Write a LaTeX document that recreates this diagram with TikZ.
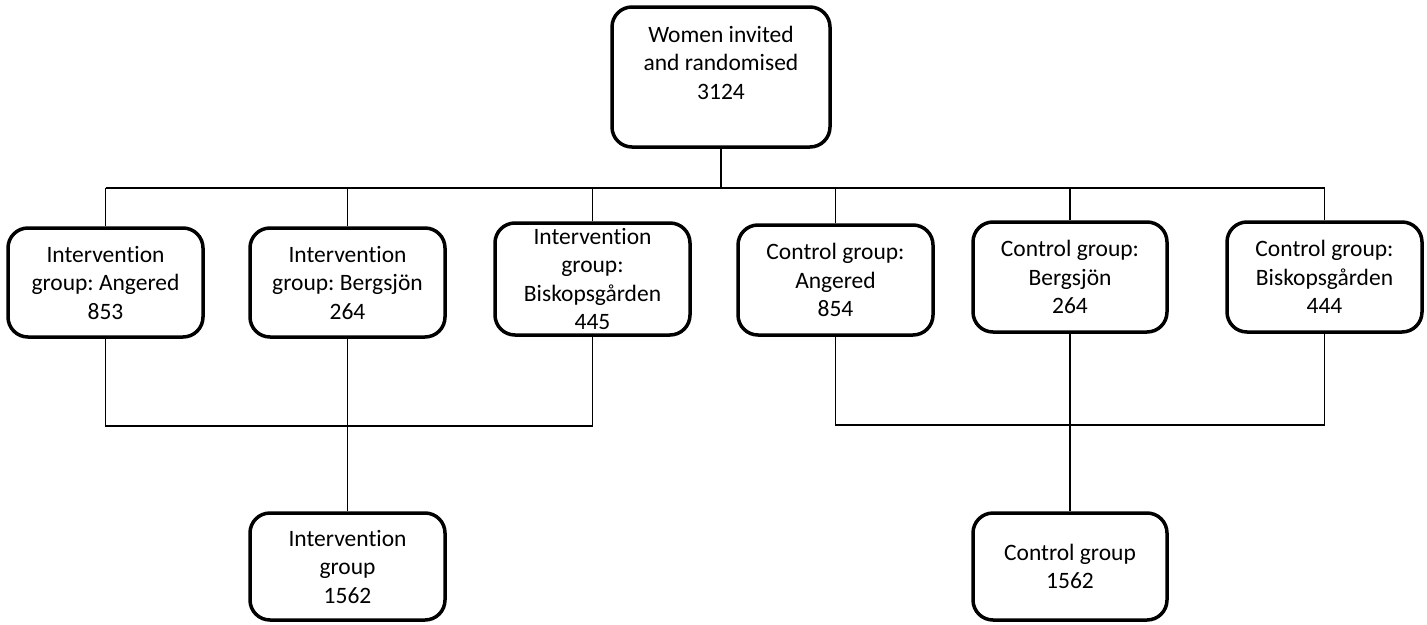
\documentclass[tikz,border=0pt]{standalone}
\usepackage{fontspec}
\setmainfont[Ligatures=NoCommon]{Carlito}
\usepackage{tikz}
\frenchspacing

\tikzset{
  box/.style={draw, line width=3.5pt, rounded corners=20pt, align=center,
    minimum width=195pt, minimum height=109pt, inner sep=0pt,
    font=\fontsize{23.5}{28.5}\selectfont},
  link/.style={line width=1.3pt}
}

\begin{document}
\begin{tikzpicture}[x=1pt,y=-1pt]
  \useasboundingbox (0,0) rectangle (1427,624);
  % boxes
  \node[box, minimum width=218pt, minimum height=140pt] (top) at (721,77)
    {Women invited\\and randomised\\3124\\\mbox{}};
  \node[box] (ia) at (105.5,282.5) {Intervention\\group: Angered\\853};
  \node[box] (ib) at (347.5,282.5) {Intervention\\group: Bergsjön\\264};
  \node[box, minimum height=112pt] (ic) at (592.5,279) {Intervention\\group:\\Biskopsgården\\445};
  \node[box, minimum height=110pt] (ca) at (835.5,280) {Control group:\\Angered\\854};
  \node[box, minimum width=194pt, minimum height=110pt] (cb) at (1070,277) {Control group:\\Bergsjön\\264};
  \node[box, minimum height=110pt] (cc) at (1324.5,277) {Control group:\\Biskopsgården\\444};
  \node[box, minimum height=107pt] (ig) at (347.5,566.5) {Intervention\\group\\1562};
  \node[box, minimum width=194pt, minimum height=107pt] (cg) at (1070,566.5) {Control group\\1562};
  % connectors
  \coordinate (bus) at (721,188);
  \coordinate (ibus) at (347.5,426);
  \coordinate (cbus) at (1070,425);
  \draw[link] (top.south) -- (bus);
  \draw[link] (ia.north |- bus) -- (cc.north |- bus);
  \foreach \n in {ia,ib,ic,ca,cb,cc}{\draw[link] (\n.north) -- (\n.north |- bus);}
  \draw[link] (ia.south) |- (ibus) -| (ic.south);
  \draw[link] (ib.south) -- (ig.north);
  \draw[link] (ca.south) |- (cbus) -| (cc.south);
  \draw[link] (cb.south) -- (cbus);
  \draw[link, line width=2pt] (cbus) -- (cg.north);
\end{tikzpicture}
\end{document}
